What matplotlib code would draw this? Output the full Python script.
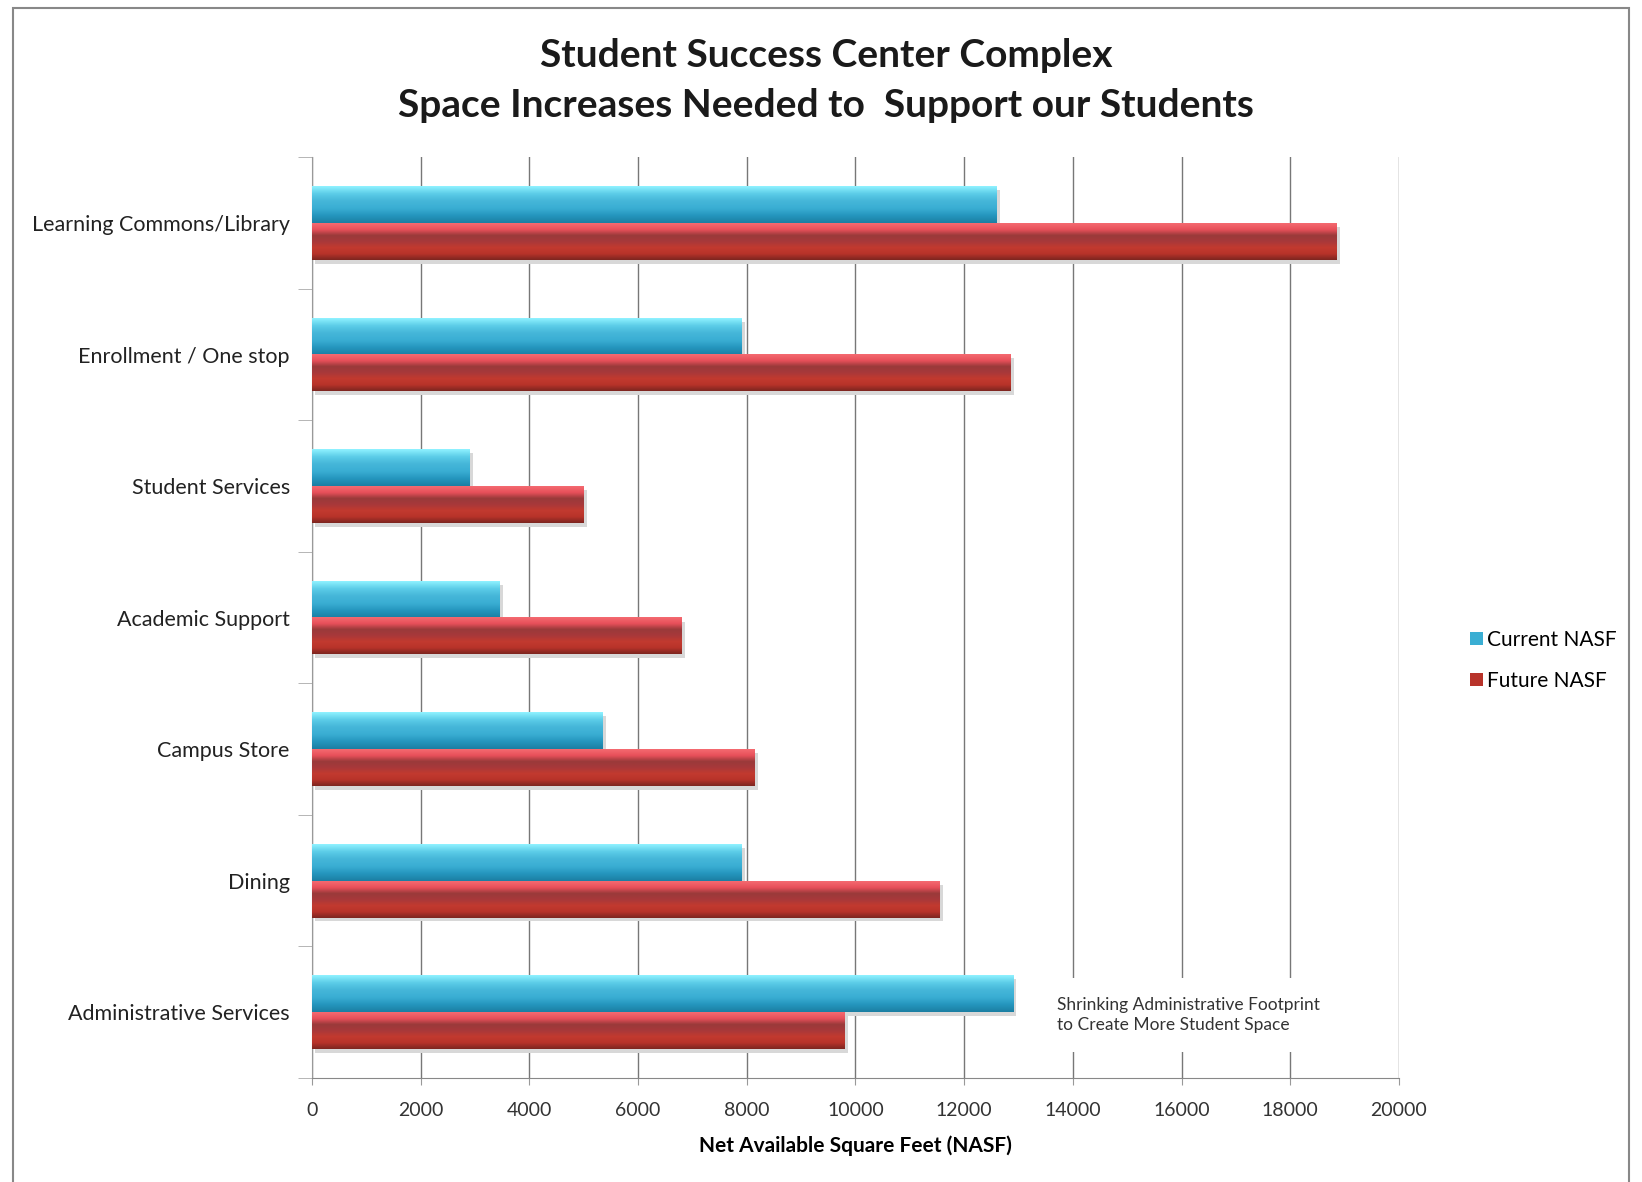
import matplotlib.pyplot as plt
import numpy as np
from matplotlib.colors import LinearSegmentedColormap
from matplotlib.patches import Rectangle

plt.rcParams['font.family'] = ['Lato', 'DejaVu Sans']

categories = ["Learning Commons/Library", "Enrollment / One stop", "Student Services",
              "Academic Support", "Campus Store", "Dining", "Administrative Services"]
current_nasf = [12600, 7900, 2900, 3450, 5350, 7900, 12900]
future_nasf = [18850, 12850, 5000, 6800, 8150, 11550, 9800]
xticks = [0, 2000, 4000, 6000, 8000, 10000, 12000, 14000, 16000, 18000, 20000]
note = "Shrinking Administrative Footprint\nto Create More Student Space"

# vertical shading for the bevelled bars (bottom -> top)
cyan_shade = LinearSegmentedColormap.from_list(
    "cyan", ["#1b7fa3", "#2596be", "#3aaed3", "#45b6d9", "#5ccde8", "#8ff2ff"])
red_shade = LinearSegmentedColormap.from_list(
    "red", ["#7e2620", "#b8332a", "#c23a2f", "#a8383a", "#9a3a3a", "#e8505a", "#f46a70"])

fig = plt.figure(figsize=(16.42, 11.82), dpi=100)
ax = fig.add_axes([0.190, 0.088, 0.662, 0.779])

n = len(categories)
ypos = np.arange(n)[::-1]
h = 0.28
cur_bars = ax.barh(ypos + h / 2, current_nasf, height=h, color="#3aaed3", label="Current NASF", zorder=2)
fut_bars = ax.barh(ypos - h / 2, future_nasf, height=h, color="#b8332a", label="Future NASF", zorder=2)

grad = np.linspace(0, 1, 64).reshape(-1, 1)
for bars, cmap in [(cur_bars, cyan_shade), (fut_bars, red_shade)]:
    for p in bars:
        x0, y0 = p.get_x(), p.get_y()
        ax.imshow(grad, cmap=cmap, aspect='auto', origin='lower', zorder=3,
                  extent=(x0, x0 + p.get_width(), y0, y0 + p.get_height()))
        # soft drop shadow
        ax.add_patch(Rectangle((x0 + 60, y0 - 0.03), p.get_width(), p.get_height(),
                               color="#d8d8d8", zorder=1, lw=0))

ax.set_xlim(0, 20000)
ax.set_ylim(-0.5, n - 0.5)
ax.set_xticks(xticks)
ax.set_xticklabels([str(t) for t in xticks], fontsize=14, color="#333333")
ax.set_yticks(ypos)
ax.set_yticklabels(categories, fontsize=15.5, color="#222222")
ax.tick_params(axis='y', length=0, pad=16)
ax.tick_params(axis='x', length=5, color="#999999", pad=12)
ax.set_yticks(np.arange(-0.5, n, 1), minor=True)
ax.tick_params(axis='y', which='minor', length=10, color="#aaaaaa", direction='out')

ax.grid(axis='x', color="#777777", linewidth=1.0, zorder=0)
ax.set_axisbelow(True)
for s in ['top', 'right']:
    ax.spines[s].set_visible(False)
ax.spines['left'].set_color("#999999")
ax.spines['bottom'].set_color("#888888")

ax.set_xlabel("Net Available Square Feet (NASF)", fontsize=15, fontweight='bold', labelpad=12)

# note sits in a white box that hides the gridlines behind it
ax.text(13700, ypos[-1] - 0.02, note, fontsize=12.5, va='center', ha='left', linespacing=1.3,
        color="#333333", zorder=4,
        bbox=dict(facecolor='white', edgecolor='none', boxstyle='square,pad=1.1'))

fig.text(0.503, 0.932, "Student Success Center Complex\nSpace Increases Needed to  Support our Students",
         ha='center', va='center', fontsize=28, fontweight='bold', linespacing=1.5, color="#1a1a1a")

leg = fig.legend(handles=[cur_bars, fut_bars], loc='center left', bbox_to_anchor=(0.884, 0.4415),
                 frameon=False, fontsize=15, handlelength=0.6, handleheight=0.6,
                 handletextpad=0.2, labelspacing=1.0)

fig.patches.append(Rectangle((0.008, -0.01), 0.984, 1.003, transform=fig.transFigure,
                             fill=False, edgecolor="#888888", lw=1.5))

fig.savefig("out.png", dpi=100)
